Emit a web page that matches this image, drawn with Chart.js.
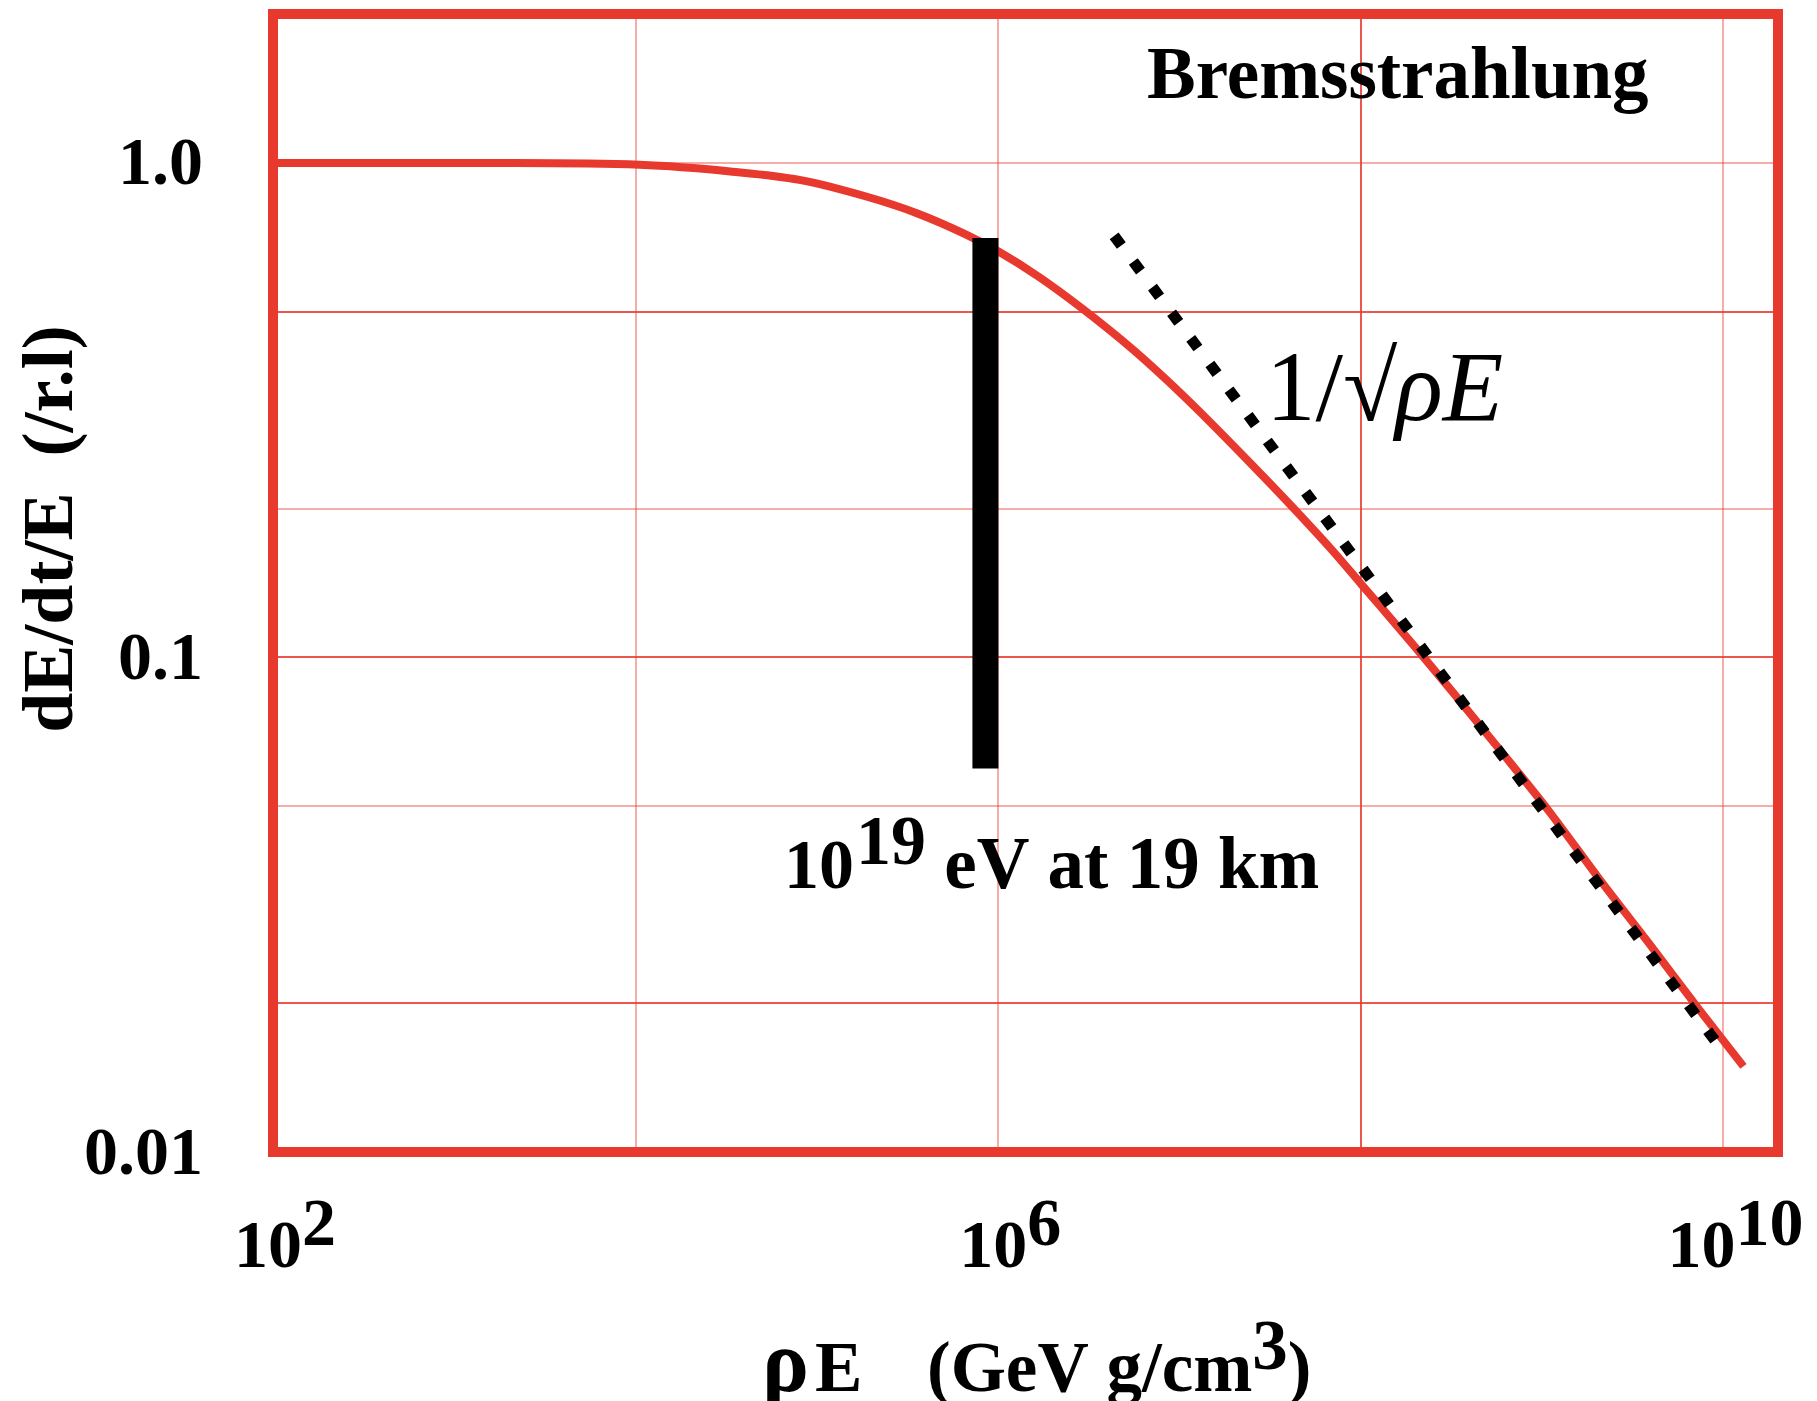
<!DOCTYPE html>
<html>
<head>
<meta charset="utf-8">
<script src="https://cdn.jsdelivr.net/npm/chart.js@4.4.1/dist/chart.umd.min.js"></script>
<style>
    body { margin: 0; background: #fff; }
    canvas { display: block; }
</style>
</head>
<body>
<canvas id="myChart" width="1817" height="1401"></canvas>
<script>
'use strict';

// energy loss curve
let curveX = [1e2, 1.78e3, 1.05e4, 3.42e4, 8.0e4, 1.87e5, 3.53e5, 6.66e5, 1.01e6, 1.68e6,
    2.90e6, 5.47e6, 8.43e6, 1.28e7, 2.41e7, 4.01e7, 6.92e7, 1.01e8, 2.01e8, 3.17e8,
    5.75e8, 1.09e9, 2.05e9, 3.86e9, 7.28e9, 1.29e10];
let curveY = [1.0, 0.999, 0.991, 0.960, 0.924, 0.855, 0.792, 0.716, 0.661, 0.588,
    0.508, 0.421, 0.365, 0.315, 0.249, 0.205, 0.165, 0.1404, 0.1046, 0.0856,
    0.0655, 0.0489, 0.0358, 0.0265, 0.0195, 0.0149];

// 1/sqrt(rho E) guide line
let slopeX = [4.36e6, 9.62e9];
let slopeY = [0.712, 0.01625];

// 10^19 eV at 19 km marker
let markX = [8.5e5, 8.5e5];
let markY = [0.705, 0.0596];

let xTicks = [1e2, 1e4, 1e6, 1e8, 1e10, 2e10];
let yTicks = [0.01, 0.02, 0.05, 0.1, 0.2, 0.5, 1, 2];
let xStrong = [1e8];
let yStrong = [0.5, 0.1, 0.02];
let xLabelVals = [1e2, 1e6, 1e10];
let xLabelExp = ['2', '6', '10'];
let yLabelVals = [1, 0.1, 0.01];
let yLabelText = ['1.0', '0.1', '0.01'];

const RED = '#e8392e';
const SERIF = '"Liberation Serif", "Times New Roman", serif';

function toPoints(xs, ys) {
    let pts = [];
    for (let i = 0; i < xs.length; i++) {
        pts.push({ x: xs[i], y: ys[i] });
    }
    return pts;
}

function gridColor(strongList) {
    return function (c) {
        if (!c.tick) return 'rgba(0,0,0,0)';
        for (let i = 0; i < strongList.length; i++) {
            if (Math.abs(c.tick.value / strongList[i] - 1) < 1e-6) return 'rgba(233,57,46,0.85)';
        }
        return 'rgba(233,57,46,0.42)';
    };
}

// frame + all the free text
let decorations = {
    id: 'decorations',
    afterDatasetsDraw(chart) {
        let ctx = chart.ctx;
        let a = chart.chartArea;
        ctx.save();
        ctx.strokeStyle = RED;
        ctx.lineWidth = 10;
        ctx.strokeRect(a.left, a.top, a.right - a.left, a.bottom - a.top);
        ctx.restore();
    },
    afterDraw(chart) {
        let ctx = chart.ctx;
        let xs = chart.scales.x;
        ctx.save();
        ctx.fillStyle = '#000';
        ctx.textBaseline = 'alphabetic';
        ctx.textAlign = 'left';

        // x tick labels with exponents
        ctx.font = 'bold 68px ' + SERIF;
        for (let i = 0; i < xLabelVals.length; i++) {
            let px = xs.getPixelForValue(xLabelVals[i]);
            let w1 = ctx.measureText('10').width;
            let w2 = ctx.measureText(xLabelExp[i]).width;
            let start = px + 12 - (w1 + w2) / 2;
            ctx.fillText('10', start, 1267);
            ctx.fillText(xLabelExp[i], start + w1, 1245);
        }

        // x title
        ctx.font = 'bold 88px ' + SERIF;
        ctx.fillText('\u03c1', 762, 1391);
        ctx.font = 'bold 71px ' + SERIF;
        ctx.fillText('E', 815, 1391);
        let part = '(GeV g/cm';
        ctx.fillText(part, 927, 1391);
        let wp = ctx.measureText(part).width;
        ctx.fillText('3', 927 + wp, 1369);
        let w3 = ctx.measureText('3').width;
        ctx.fillText(')', 927 + wp + w3, 1391);

        // y title
        ctx.save();
        ctx.translate(72, 529);
        ctx.rotate(-Math.PI / 2);
        ctx.textAlign = 'center';
        ctx.font = 'bold 72px ' + SERIF;
        ctx.fillText('dE/dt/E  (/r.l)', 0, 0);
        ctx.restore();

        // Bremsstrahlung
        ctx.font = 'bold 73px ' + SERIF;
        ctx.fillText('Bremsstrahlung', 1147, 98);

        // 1/sqrt(rho E)
        ctx.font = '99px ' + SERIF;
        ctx.fillText('1/', 1266, 420);
        let wa = ctx.measureText('1/').width;
        ctx.fillText('\u221a', 1266 + wa, 420);
        let wb = ctx.measureText('\u221a').width;
        ctx.font = 'italic 99px ' + SERIF;
        ctx.fillText('\u03c1E', 1266 + wa + wb - 2, 420);

        // 10^19 eV at 19 km
        ctx.font = 'bold 70px ' + SERIF;
        ctx.fillText('10', 784, 888);
        let w10 = ctx.measureText('10').width;
        ctx.fillText('19', 786 + w10, 864);
        let w19 = ctx.measureText('19').width;
        ctx.font = 'bold 73px ' + SERIF;
        ctx.fillText(' eV at 19 km', 786 + w10 + w19, 888);

        ctx.restore();
    }
};

let ctx = document.getElementById('myChart').getContext('2d');

let myChart = new Chart(ctx, {
    type: 'line',
    data: {
        datasets: [{
            label: 'slope',
            data: toPoints(slopeX, slopeY),
            borderColor: '#000',
            borderWidth: 11,
            borderDash: [12, 20],
            borderCapStyle: 'butt',
            pointRadius: 0,
            order: 0
        }, {
            label: 'marker',
            data: toPoints(markX, markY),
            borderColor: '#000',
            borderWidth: 26,
            borderCapStyle: 'butt',
            pointRadius: 0,
            order: 1
        }, {
            label: 'bremsstrahlung',
            data: toPoints(curveX, curveY),
            borderColor: RED,
            borderWidth: 8,
            borderCapStyle: 'butt',
            cubicInterpolationMode: 'monotone',
            pointRadius: 0,
            order: 2
        }]
    },
    options: {
        responsive: false,
        animation: false,
        devicePixelRatio: 1,
        layout: {
            autoPadding: false,
            padding: { top: 14, right: 39, bottom: 0, left: 0 }
        },
        plugins: {
            legend: { display: false },
            tooltip: { enabled: false }
        },
        scales: {
            x: {
                type: 'logarithmic',
                min: 1e2,
                max: 2e10,
                afterBuildTicks: (scale) => {
                    scale.ticks = xTicks.map(v => ({ value: v }));
                },
                afterFit: (scale) => {
                    scale.height = 249;
                    scale.paddingLeft = 0;
                    scale.paddingRight = 0;
                },
                ticks: { display: false },
                border: { display: false },
                grid: {
                    drawTicks: false,
                    color: gridColor(xStrong),
                    lineWidth: 2
                }
            },
            y: {
                type: 'logarithmic',
                min: 0.01,
                max: 2,
                afterBuildTicks: (scale) => {
                    scale.ticks = yTicks.map(v => ({ value: v }));
                },
                afterFit: (scale) => {
                    // keep the plot frame where the reference has it
                    scale.width = 273;
                    scale.paddingTop = 0;
                    scale.paddingBottom = 0;
                },
                ticks: {
                    autoSkip: false,
                    padding: 70,
                    labelOffset: 4,
                    color: '#000',
                    font: { family: SERIF, weight: 'bold', size: 68 },
                    callback: function (value) {
                        for (let i = 0; i < yLabelVals.length; i++) {
                            if (Math.abs(value / yLabelVals[i] - 1) < 1e-6) return yLabelText[i];
                        }
                        return value >= 2 ? null : '';
                    }
                },
                border: { display: false },
                grid: {
                    drawTicks: false,
                    color: gridColor(yStrong),
                    lineWidth: 2
                }
            }
        }
    },
    plugins: [decorations]
});
</script>
</body>
</html>
